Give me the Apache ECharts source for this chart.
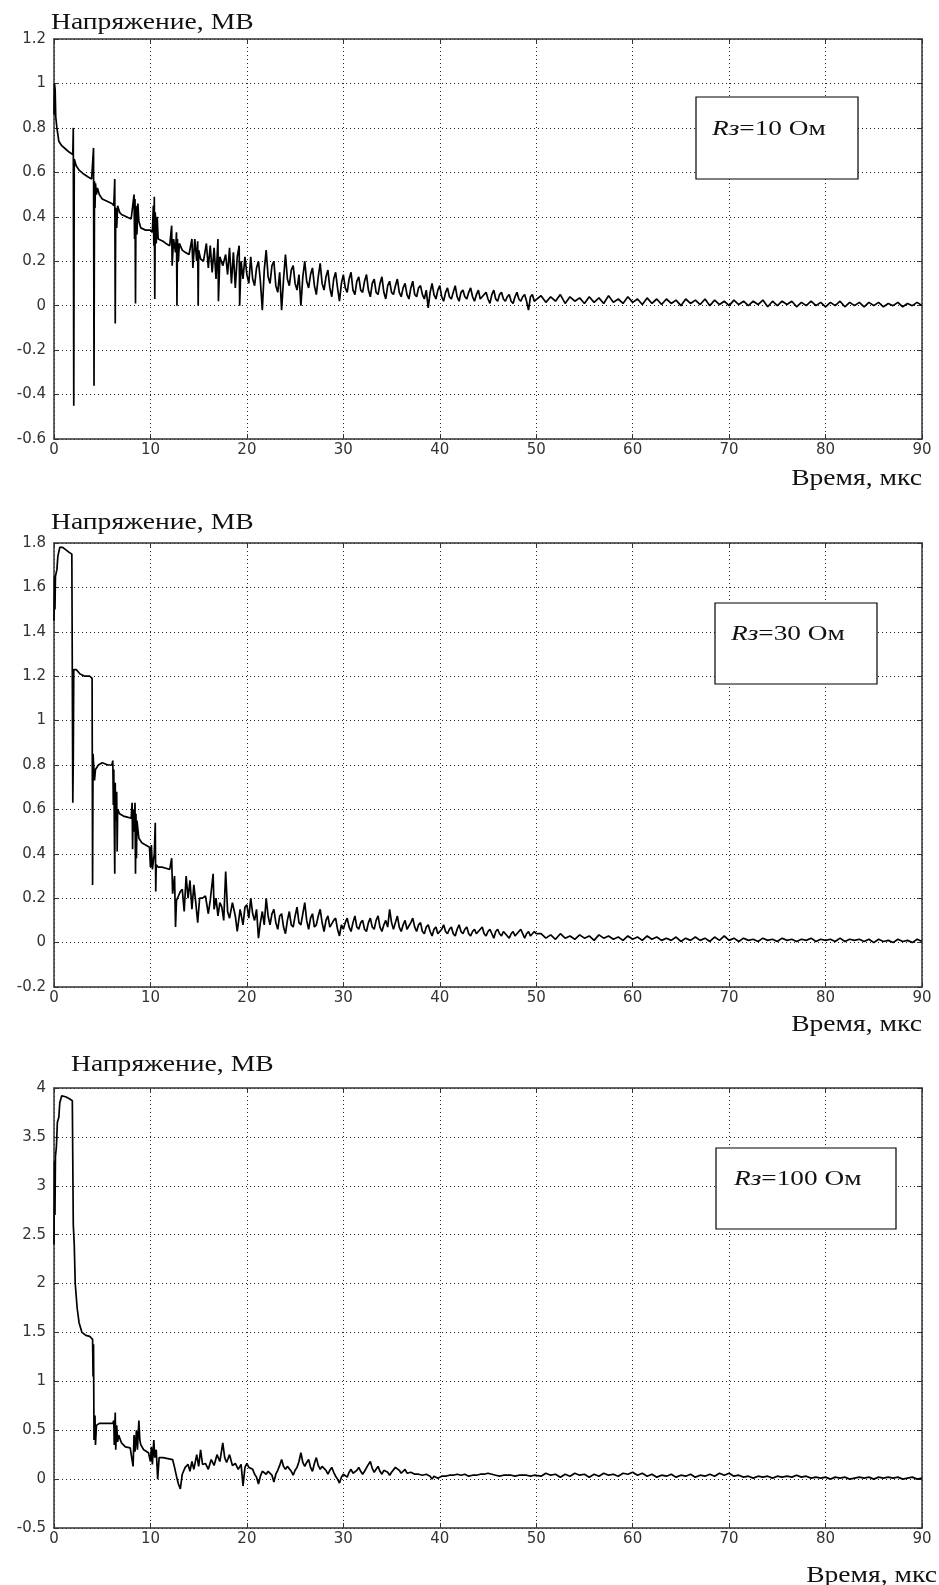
<!DOCTYPE html>
<html>
<head>
<meta charset="utf-8">
<script src="https://cdn.jsdelivr.net/npm/echarts@6/dist/echarts.min.js"></script>
<style>
  html, body { margin: 0; padding: 0; background: #fff; }
  #chart { width: 939px; height: 1585px; }
</style>
</head>
<body>
<div id="chart"></div>
<script>
// x ticks, mks
var xTicks = [0, 10, 20, 30, 40, 50, 60, 70, 80, 90];

// shared sample times for the noisy tail (20..90 mks)
var tTailA = [
  20.0, 20.2, 20.4, 20.6, 20.8, 21.0, 21.2, 21.4, 21.6, 21.8,
  22.0, 22.2, 22.4, 22.6, 22.8, 23.0, 23.2, 23.4, 23.6, 23.8,
  24.0, 24.2, 24.4, 24.6, 24.8, 25.0, 25.2, 25.4, 25.6, 25.8,
  26.0, 26.2, 26.4, 26.6, 26.8, 27.0, 27.2, 27.4, 27.6, 27.8,
  28.0, 28.2, 28.4, 28.6, 28.8, 29.0, 29.2, 29.4, 29.6, 29.8,
  30.0, 30.2, 30.4, 30.6, 30.8, 31.0, 31.2, 31.4, 31.6, 31.8,
  32.0, 32.2, 32.4, 32.6, 32.8, 33.0, 33.2, 33.4, 33.6, 33.8,
  34.0, 34.2, 34.4, 34.6, 34.8, 35.0, 35.2, 35.4, 35.6, 35.8,
  36.0, 36.2, 36.4, 36.6, 36.8, 37.0, 37.2, 37.4, 37.6, 37.8,
  38.0, 38.2, 38.4, 38.6, 38.8, 39.0, 39.2, 39.4, 39.6, 39.8,
  40.0, 40.2, 40.4, 40.6, 40.8, 41.0, 41.2, 41.4, 41.6, 41.8,
  42.0, 42.2, 42.4, 42.6, 42.8, 43.0, 43.2, 43.4, 43.6, 43.8,
  44.0, 44.2, 44.4, 44.6, 44.8, 45.0, 45.2, 45.4, 45.6, 45.8,
  46.0, 46.2, 46.4, 46.6, 46.8, 47.0, 47.2, 47.4, 47.6, 47.8,
  48.0, 48.2, 48.4, 48.6, 48.8, 49.0, 49.2, 49.4, 49.6, 49.8,
  50.0
];
var tTailB = [
  50.5, 51.0, 51.5, 52.0, 52.5, 53.0, 53.5, 54.0, 54.5, 55.0,
  55.5, 56.0, 56.5, 57.0, 57.5, 58.0, 58.5, 59.0, 59.5, 60.0,
  60.5, 61.0, 61.5, 62.0, 62.5, 63.0, 63.5, 64.0, 64.5, 65.0,
  65.5, 66.0, 66.5, 67.0, 67.5, 68.0, 68.5, 69.0, 69.5, 70.0,
  70.5, 71.0, 71.5, 72.0, 72.5, 73.0, 73.5, 74.0, 74.5, 75.0,
  75.5, 76.0, 76.5, 77.0, 77.5, 78.0, 78.5, 79.0, 79.5, 80.0,
  80.5, 81.0, 81.5, 82.0, 82.5, 83.0, 83.5, 84.0, 84.5, 85.0,
  85.5, 86.0, 86.5, 87.0, 87.5, 88.0, 88.5, 89.0, 89.5, 90.0
];

// ---- Rз = 10 Ом ----
var t1 = [
  0, 0.05, 0.12, 0.18, 0.3, 0.5, 0.8, 1.2, 1.6, 1.95,
  2.0, 2.05, 2.1, 2.3, 2.6, 3.0, 3.5, 3.9, 4.1, 4.15,
  4.2, 4.25, 4.3, 4.4, 4.5, 4.7, 5.0, 5.5, 6.0, 6.2,
  6.3, 6.35, 6.4, 6.5, 6.6, 6.8, 7.0, 7.5, 8.0, 8.3,
  8.35, 8.4, 8.45, 8.5, 8.6, 8.7, 8.8, 9.0, 9.5, 10.0,
  10.2, 10.3, 10.35, 10.4, 10.45, 10.5, 10.6, 10.7, 10.8, 11.0,
  11.3, 11.6, 12.0, 12.2, 12.25, 12.4, 12.6, 12.7, 12.75, 12.8,
  12.9, 13.0, 13.3, 13.6, 14.0, 14.3, 14.4, 14.6, 14.8, 14.9,
  14.95, 15.0, 15.2, 15.5, 15.8, 16.0, 16.2, 16.4, 16.6, 16.8,
  17.0, 17.05, 17.2, 17.5, 17.8, 18.0, 18.2, 18.4, 18.6, 18.8,
  19.0, 19.2, 19.25, 19.4, 19.6, 19.8
];
var v1 = [
  0.86, 1.0, 0.97, 0.85, 0.8, 0.74, 0.72, 0.705, 0.69, 0.68,
  0.8, -0.45, 0.66, 0.63, 0.61, 0.595, 0.58, 0.57, 0.71, -0.36,
  0.56, 0.44, 0.55, 0.5, 0.53, 0.5, 0.48, 0.47, 0.46, 0.45,
  0.57, -0.08, 0.44, 0.35, 0.45, 0.42, 0.41, 0.4, 0.39, 0.5,
  0.3, 0.48, 0.01, 0.45, 0.32, 0.46, 0.38, 0.35, 0.34, 0.34,
  0.33, 0.45, 0.27, 0.49, 0.03, 0.42, 0.28, 0.4, 0.3, 0.3,
  0.29, 0.28, 0.27, 0.36, 0.18, 0.3, 0.24, 0.33, 0.0, 0.3,
  0.2, 0.28, 0.25, 0.24, 0.23, 0.3, 0.17, 0.3, 0.2, 0.29,
  0.0, 0.25, 0.21, 0.2, 0.28, 0.17, 0.27, 0.15, 0.26, 0.12,
  0.3, 0.02, 0.22, 0.18, 0.23, 0.14, 0.26, 0.1, 0.24, 0.08,
  0.22, 0.27, 0.0, 0.2, 0.12, 0.22
];
var v1TailA = [
  0.14, 0.10, 0.22, 0.12, 0.09, 0.17, 0.20, 0.11, -0.02, 0.16,
  0.25, 0.13, 0.10, 0.18, 0.20, 0.09, 0.06, 0.15, -0.02, 0.12,
  0.23, 0.12, 0.09, 0.16, 0.18, 0.10, 0.07, 0.14, 0.00, 0.13,
  0.20, 0.11, 0.08, 0.14, 0.17, 0.09, 0.05, 0.13, 0.19, 0.10,
  0.07, 0.13, 0.16, 0.08, 0.04, 0.12, 0.15, 0.08, 0.02, 0.10,
  0.14, 0.08, 0.06, 0.12, 0.15, 0.07, 0.05, 0.11, 0.13, 0.07,
  0.06, 0.11, 0.14, 0.07, 0.04, 0.10, 0.12, 0.06, 0.05, 0.10,
  0.13, 0.06, 0.03, 0.09, 0.11, 0.06, 0.05, 0.09, 0.12, 0.06,
  0.04, 0.08, 0.10, 0.05, 0.03, 0.08, 0.11, 0.05, 0.04, 0.08,
  0.09, 0.05, 0.03, 0.07, -0.01, 0.06, 0.10, 0.05, 0.03, 0.07,
  0.09, 0.04, 0.02, 0.06, 0.08, 0.04, 0.03, 0.06, 0.09, 0.04,
  0.02, 0.06, 0.07, 0.04, 0.03, 0.06, 0.08, 0.04, 0.02, 0.05,
  0.07, 0.03, 0.03, 0.05, 0.06, 0.03, 0.01, 0.05, 0.07, 0.03,
  0.02, 0.05, 0.06, 0.03, 0.02, 0.04, 0.05, 0.02, 0.01, 0.04,
  0.06, 0.03, 0.02, 0.04, 0.05, 0.02, -0.02, 0.04, 0.05, 0.02,
  0.02
];
var v1TailB = [
  0.045, 0.015, 0.04, 0.02, 0.05, 0.01, 0.04, 0.02, 0.035, 0.01,
  0.04, 0.015, 0.035, 0.01, 0.045, 0.015, 0.03, 0.01, 0.04, 0.015,
  0.03, 0.005, 0.035, 0.01, 0.03, 0.005, 0.03, 0.01, 0.025, 0.0,
  0.03, 0.01, 0.025, 0.005, 0.03, 0.0, 0.025, 0.005, 0.02, 0.0,
  0.025, 0.005, 0.02, 0.0, 0.02, 0.005, 0.025, -0.005, 0.02, 0.0,
  0.02, 0.005, 0.02, -0.005, 0.015, 0.0, 0.02, 0.0, 0.015, -0.005,
  0.015, 0.0, 0.02, -0.005, 0.015, 0.0, 0.015, -0.005, 0.015, 0.0,
  0.015, -0.005, 0.01, 0.0, 0.015, -0.005, 0.01, 0.0, 0.015, 0.0
];

// ---- Rз = 30 Ом ----
var t2 = [
  0, 0.05, 0.1, 0.15, 0.3, 0.4, 0.6, 0.9, 1.2, 1.5,
  1.85, 1.9, 1.95, 2.0, 2.05, 2.3, 2.7, 3.2, 3.7, 3.95,
  4.0, 4.05, 4.2, 4.3, 4.6, 5.0, 5.6, 6.0, 6.1, 6.15,
  6.2, 6.3, 6.35, 6.4, 6.5, 6.55, 6.6, 6.8, 7.2, 7.6,
  8.0, 8.1, 8.15, 8.2, 8.3, 8.4, 8.45, 8.5, 8.55, 8.6,
  8.8, 9.1, 9.5, 9.9, 10.0, 10.1, 10.2, 10.4, 10.5, 10.55,
  10.6, 10.8, 11.2, 11.6, 12.0, 12.2, 12.3, 12.5, 12.6, 12.7,
  12.9, 13.1, 13.3, 13.5, 13.7, 13.9, 14.1, 14.3, 14.5, 14.7,
  14.9, 15.1, 15.4, 15.7, 16.0, 16.2, 16.5, 16.6, 16.8, 17.0,
  17.2, 17.4, 17.6, 17.8, 18.0, 18.2, 18.5, 18.8, 19.0, 19.3,
  19.6, 19.8
];
var v2 = [
  1.45, 1.65, 1.5, 1.65, 1.68, 1.74, 1.78, 1.78, 1.77, 1.76,
  1.75, 1.75, 0.63, 0.83, 1.23, 1.23, 1.21, 1.2, 1.2, 1.19,
  0.26, 0.85, 0.73, 0.78, 0.8, 0.81, 0.8, 0.8, 0.82, 0.62,
  0.78, 0.31, 0.72, 0.55, 0.68, 0.41, 0.6, 0.58, 0.57, 0.565,
  0.56, 0.63, 0.42, 0.6, 0.5, 0.63, 0.31, 0.58, 0.38, 0.55,
  0.47, 0.45, 0.44, 0.43, 0.34, 0.44, 0.33, 0.4, 0.54, 0.23,
  0.35, 0.34, 0.34, 0.335, 0.33, 0.38, 0.22, 0.3, 0.07, 0.19,
  0.21, 0.23, 0.24, 0.14, 0.3, 0.2, 0.28, 0.15, 0.26, 0.18,
  0.09, 0.2, 0.2, 0.21, 0.13, 0.19, 0.31, 0.15, 0.2, 0.12,
  0.18, 0.16, 0.1, 0.32, 0.14, 0.11, 0.18, 0.12, 0.05, 0.15,
  0.08, 0.16
];
var v2TailA = [
  0.17, 0.11, 0.20, 0.13, 0.10, 0.15, 0.02, 0.09, 0.14, 0.08,
  0.20, 0.12, 0.08, 0.13, 0.15, 0.09, 0.06, 0.12, 0.13, 0.07,
  0.04, 0.10, 0.14, 0.08, 0.07, 0.12, 0.16, 0.09, 0.08, 0.13,
  0.18, 0.10, 0.06, 0.11, 0.13, 0.07, 0.08, 0.12, 0.15, 0.09,
  0.05, 0.10, 0.12, 0.07, 0.07, 0.10, 0.11, 0.06, 0.03, 0.08,
  0.06, 0.09, 0.11, 0.07, 0.05, 0.09, 0.12, 0.07, 0.06, 0.09,
  0.10, 0.06, 0.05, 0.09, 0.11, 0.07, 0.06, 0.10, 0.12, 0.07,
  0.05, 0.08, 0.10, 0.07, 0.15, 0.09, 0.06, 0.09, 0.12, 0.07,
  0.05, 0.08, 0.10, 0.06, 0.06, 0.09, 0.11, 0.07, 0.05, 0.08,
  0.09, 0.05, 0.04, 0.07, 0.08, 0.05, 0.03, 0.06, 0.07, 0.04,
  0.04, 0.06, 0.08, 0.05, 0.04, 0.06, 0.07, 0.04, 0.03, 0.06,
  0.08, 0.05, 0.04, 0.06, 0.07, 0.04, 0.03, 0.05, 0.06, 0.04,
  0.04, 0.06, 0.07, 0.04, 0.03, 0.05, 0.06, 0.04, 0.02, 0.05,
  0.06, 0.04, 0.03, 0.05, 0.05, 0.03, 0.02, 0.04, 0.05, 0.03,
  0.03, 0.05, 0.06, 0.04, 0.02, 0.04, 0.05, 0.03, 0.03, 0.05,
  0.04
];
var v2TailB = [
  0.04, 0.02, 0.035, 0.015, 0.04, 0.02, 0.03, 0.015, 0.035, 0.02,
  0.03, 0.01, 0.035, 0.02, 0.03, 0.015, 0.025, 0.01, 0.03, 0.015,
  0.025, 0.01, 0.03, 0.015, 0.025, 0.01, 0.02, 0.01, 0.025, 0.005,
  0.02, 0.01, 0.025, 0.01, 0.02, 0.005, 0.025, 0.01, 0.03, 0.01,
  0.02, 0.005, 0.02, 0.01, 0.015, 0.005, 0.02, 0.01, 0.015, 0.005,
  0.02, 0.01, 0.015, 0.005, 0.015, 0.01, 0.02, 0.005, 0.015, 0.01,
  0.015, 0.005, 0.02, 0.005, 0.015, 0.01, 0.015, 0.005, 0.015, 0.0,
  0.015, 0.005, 0.01, 0.0, 0.015, 0.005, 0.01, 0.0, 0.015, 0.005
];

// ---- Rз = 100 Ом ----
var t3 = [
  0, 0.05, 0.1, 0.15, 0.25, 0.35, 0.5, 0.6, 0.8, 1.2,
  1.6, 1.9, 2.0, 2.1, 2.2, 2.4, 2.6, 2.9, 3.3, 3.7,
  4.0, 4.05, 4.1, 4.15, 4.25, 4.3, 4.4, 4.7, 5.2, 5.8,
  6.1, 6.2, 6.25, 6.35, 6.4, 6.5, 6.6, 6.7, 7.0, 7.4,
  7.9, 8.1, 8.2, 8.3, 8.4, 8.55, 8.65, 8.8, 8.9, 9.0,
  9.3, 9.8, 10.0, 10.1, 10.2, 10.35, 10.45, 10.6, 10.75, 10.9,
  11.3, 11.8, 12.3, 12.5, 12.7, 12.9, 13.1, 13.3, 13.6, 13.9,
  14.1, 14.3, 14.5, 14.8, 15.0, 15.2, 15.4, 15.7, 16.0, 16.3,
  16.6, 16.9, 17.2, 17.5, 17.7, 17.9, 18.2, 18.5, 18.8, 19.1,
  19.4, 19.6, 19.8
];
var v3 = [
  2.4, 3.25, 2.7, 3.3, 3.4, 3.65, 3.7, 3.85, 3.92, 3.91,
  3.89, 3.87, 2.6, 2.4, 2.0, 1.75, 1.6, 1.5, 1.47, 1.46,
  1.43, 1.05, 1.38, 0.4, 0.65, 0.35, 0.55, 0.57, 0.57, 0.57,
  0.57, 0.6, 0.35, 0.68, 0.3, 0.55, 0.38, 0.45, 0.37, 0.33,
  0.32, 0.33, 0.13, 0.45, 0.28, 0.5, 0.3, 0.6, 0.4, 0.35,
  0.3, 0.27, 0.18, 0.33, 0.15, 0.4, 0.22, 0.3, 0.0, 0.22,
  0.22, 0.21, 0.2, 0.12, 0.03, -0.05, -0.1, 0.05, 0.12, 0.15,
  0.08, 0.18, 0.1, 0.25, 0.13, 0.3, 0.15, 0.16, 0.1, 0.2,
  0.14, 0.25, 0.18, 0.37, 0.22, 0.17, 0.25, 0.14, 0.16, 0.1,
  0.15, -0.07, 0.12
];
var v3TailA = [
  0.16, 0.12, 0.14, 0.10, 0.05, 0.02, -0.05, 0.03, 0.08, 0.06,
  0.05, 0.08, 0.10, 0.04, -0.03, 0.05, 0.09, 0.14, 0.20, 0.13,
  0.10, 0.13, 0.15, 0.08, 0.04, 0.09, 0.12, 0.18, 0.27, 0.17,
  0.13, 0.17, 0.20, 0.12, 0.08, 0.16, 0.22, 0.14, 0.10, 0.13,
  0.15, 0.09, 0.05, 0.09, 0.12, 0.07, 0.03, 0.00, -0.04, 0.02,
  0.05, 0.03, 0.02, 0.07, 0.10, 0.06, 0.04, 0.09, 0.12, 0.08,
  0.05, 0.08, 0.10, 0.15, 0.18, 0.11, 0.07, 0.10, 0.13, 0.08,
  0.05, 0.09, 0.11, 0.07, 0.04, 0.07, 0.09, 0.12, 0.14, 0.09,
  0.06, 0.08, 0.10, 0.06, 0.04, 0.07, 0.08, 0.05, 0.03, 0.05,
  0.07, 0.04, 0.02, 0.05, 0.06, 0.03, 0.00, 0.03, 0.04, 0.01,
  -0.01, 0.03, 0.05, 0.03, 0.02, 0.04, 0.06, 0.04, 0.03, 0.05,
  0.07, 0.04, 0.03, 0.05, 0.06, 0.03, 0.02, 0.04, 0.05, 0.04,
  0.03, 0.05, 0.06, 0.05, 0.04, 0.06, 0.07, 0.05, 0.03, 0.04,
  0.05, 0.03, 0.02, 0.04, 0.06, 0.04, 0.03, 0.04, 0.05, 0.03,
  0.02, 0.04, 0.06, 0.04, 0.03, 0.04, 0.05, 0.03, 0.02, 0.04,
  0.05
];
var v3TailB = [
  0.03, 0.06, 0.04, 0.05, 0.02, 0.05, 0.03, 0.06, 0.04, 0.05,
  0.02, 0.05, 0.03, 0.06, 0.04, 0.05, 0.03, 0.06, 0.05, 0.07,
  0.04, 0.06, 0.03, 0.05, 0.02, 0.04, 0.03, 0.05, 0.02, 0.04,
  0.03, 0.05, 0.02, 0.04, 0.03, 0.05, 0.03, 0.06, 0.04, 0.06,
  0.03, 0.04, 0.02, 0.03, 0.01, 0.03, 0.02, 0.03, 0.01, 0.03,
  0.02, 0.03, 0.02, 0.04, 0.02, 0.03, 0.01, 0.02, 0.01, 0.02,
  0.00, 0.02, 0.01, 0.02, 0.00, 0.01, 0.02, 0.01, 0.02, 0.00,
  0.02, 0.01, 0.02, 0.01, 0.02, 0.00, 0.01, 0.02, 0.00, 0.01
];

var yLabel = 'Напряжение, МВ';
var xLabel = 'Время, мкс';
var boxLabels = ['=10 Ом', '=30 Ом', '=100 Ом'];
var yRanges = [[-0.6, 1.2, 0.2], [-0.2, 1.8, 0.2], [-0.5, 4, 0.5]];

function pairs(tA, vA, tB, vB, tC, vC) {
  var out = [];
  var i;
  for (i = 0; i < tA.length; i++) out.push([tA[i], vA[i]]);
  for (i = 0; i < tB.length; i++) out.push([tB[i], vB[i]]);
  for (i = 0; i < tC.length; i++) out.push([tC[i], vC[i]]);
  return out;
}

var seriesData = [
  pairs(t1, v1, tTailA, v1TailA, tTailB, v1TailB),
  pairs(t2, v2, tTailA, v2TailA, tTailB, v2TailB),
  pairs(t3, v3, tTailA, v3TailA, tTailB, v3TailB)
];

var grids = [
  { left: 54, width: 868, top: 39, height: 400 },
  { left: 54, width: 868, top: 543, height: 444 },
  { left: 54, width: 868, top: 1088, height: 440 }
];

var axisColor = '#333';
var labelFont = { fontFamily: '"DejaVu Sans", Arial, sans-serif', fontSize: 15, color: '#333' };
var dotted = { show: true, lineStyle: { color: '#222', type: [1, 3], width: 1 } };

var xAxes = [], yAxes = [], series = [];
grids.forEach(function (g, i) {
  var r = yRanges[i];
  xAxes.push({
    type: 'value', gridIndex: i, min: xTicks[0], max: xTicks[xTicks.length - 1], interval: 10,
    position: 'bottom',
    axisLine: { show: true, onZero: false, lineStyle: { color: axisColor, width: 1.5 } },
    axisTick: { show: true, inside: true, length: 5, lineStyle: { color: axisColor } },
    axisLabel: Object.assign({ margin: 4 }, labelFont),
    splitLine: dotted
  });
  xAxes.push({
    type: 'value', gridIndex: i, min: xTicks[0], max: xTicks[xTicks.length - 1], interval: 10,
    position: 'top',
    axisLine: { show: true, onZero: false, lineStyle: { color: axisColor, width: 1.5 } },
    axisTick: { show: true, inside: true, length: 5, lineStyle: { color: axisColor } },
    axisLabel: { show: false },
    splitLine: { show: false }
  });
  yAxes.push({
    type: 'value', gridIndex: i, min: r[0], max: r[1], interval: r[2],
    position: 'left',
    axisLine: { show: true, onZero: false, lineStyle: { color: axisColor, width: 1.5 } },
    axisTick: { show: true, inside: true, length: 5, lineStyle: { color: axisColor } },
    axisLabel: Object.assign({ margin: 8 }, labelFont),
    splitLine: dotted
  });
  yAxes.push({
    type: 'value', gridIndex: i, min: r[0], max: r[1], interval: r[2],
    position: 'right',
    axisLine: { show: true, onZero: false, lineStyle: { color: axisColor, width: 1.5 } },
    axisTick: { show: true, inside: true, length: 5, lineStyle: { color: axisColor } },
    axisLabel: { show: false },
    splitLine: { show: false }
  });
  series.push({
    type: 'line',
    xAxisIndex: i * 2,
    yAxisIndex: i * 2,
    data: seriesData[i],
    showSymbol: false,
    symbol: 'none',
    lineStyle: { color: '#000', width: 1.7 },
    animation: false
  });
});

// the scanned figure is stretched sideways, so the serif texts are widened a bit
var serif = '"Liberation Serif", "Times New Roman", serif';
function txt(x, y, s, align) {
  return {
    type: 'text', x: x, y: y, z: 100, scaleX: 1.2,
    style: {
      text: s, fill: '#111',
      font: '23px ' + serif,
      textAlign: align, align: align,
      textVerticalAlign: 'middle', verticalAlign: 'middle'
    }
  };
}
function box(x, y, w, h, tx, ty, label) {
  return {
    type: 'group', z: 100,
    children: [
      { type: 'rect', z: 100, shape: { x: x, y: y, width: w, height: h },
        style: { fill: '#fff', stroke: '#000', lineWidth: 1.2 } },
      { type: 'text', z: 101, x: tx, y: ty, scaleX: 1.24,
        style: {
          text: '{i|Rз}' + label, fill: '#111',
          font: '22px ' + serif,
          textVerticalAlign: 'middle', verticalAlign: 'middle',
          rich: { i: { fontStyle: 'italic', fontFamily: serif, fontSize: 22, fill: '#111' } }
        } }
    ]
  };
}

var graphics = [
  txt(51, 23, yLabel, 'left'),
  txt(51, 523, yLabel, 'left'),
  txt(71, 1065, yLabel, 'left'),
  txt(922, 479, xLabel, 'right'),
  txt(922, 1025, xLabel, 'right'),
  txt(937, 1576, xLabel, 'right'),
  box(696, 97, 162, 82, 712, 129, boxLabels[0]),
  box(715, 603, 162, 81, 731, 634, boxLabels[1]),
  box(716, 1148, 180, 81, 734, 1179, boxLabels[2])
];

var chart = echarts.init(document.getElementById('chart'), null, { renderer: 'canvas' });
chart.setOption({
  backgroundColor: '#fff',
  animation: false,
  grid: grids,
  xAxis: xAxes,
  yAxis: yAxes,
  series: series,
  graphic: graphics
});
</script>
</body>
</html>
